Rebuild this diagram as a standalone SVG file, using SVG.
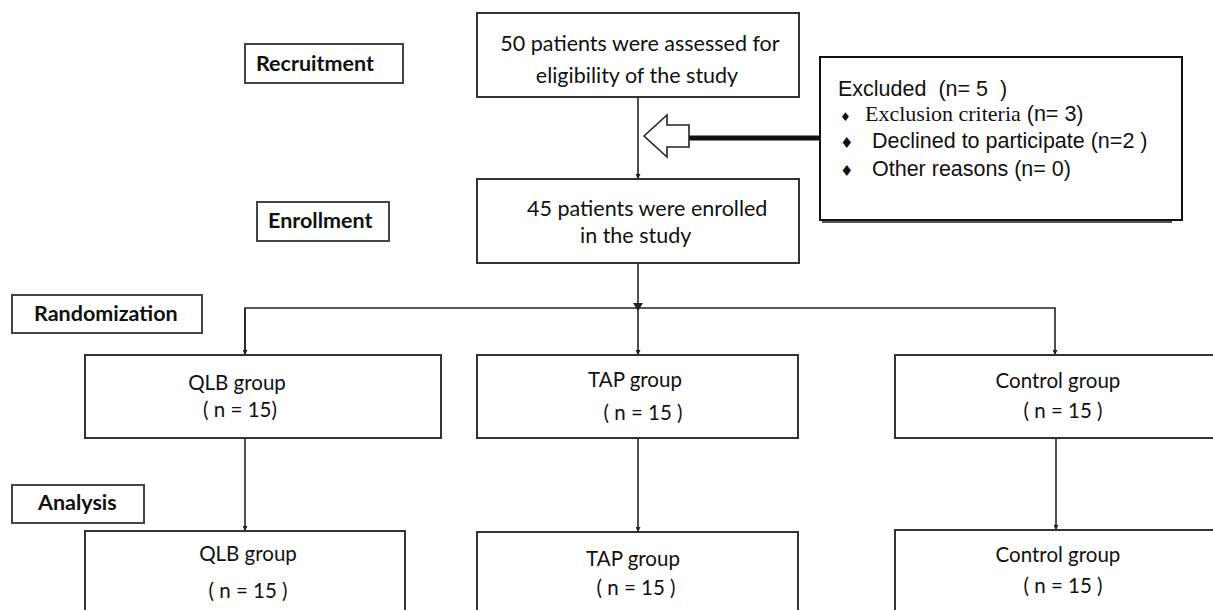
<svg xmlns="http://www.w3.org/2000/svg" width="1213" height="610" viewBox="0 0 1213 610">
<style>
.box{fill:#fff;stroke:#333;stroke-width:2}
.lbl{fill:#fff;stroke:#444;stroke-width:2}
.t{font-family:Lato,"Open Sans",sans-serif;font-size:20.5px;fill:#111}
.tl{font-family:Lato,"Open Sans",sans-serif;font-size:21.5px;fill:#111}
.tb{font-family:Lato,"Open Sans",sans-serif;font-size:21.5px;font-weight:bold;fill:#111}
.ta{font-family:"Liberation Sans",Arial,sans-serif;font-size:21.5px;fill:#111;white-space:pre}
.ts{font-family:"Liberation Serif","Times New Roman",serif;font-size:22px;fill:#111}
.bul{font-family:"DejaVu Sans",sans-serif;fill:#111}
.c{fill:none;stroke:#222;stroke-width:1.6}
</style>
<defs>
<marker id="ah" viewBox="0 0 10 10" refX="10" refY="5" markerWidth="5" markerHeight="5" orient="auto" markerUnits="userSpaceOnUse">
<path d="M0,0 L10,5 L0,10 z" fill="#222"/>
</marker>
</defs>
<rect width="1213" height="610" fill="#fff"/>

<g id="connectors">
<line class="c" x1="638" y1="97" x2="638" y2="179" marker-end="url(#ah)"/>
<line class="c" x1="638" y1="263" x2="638" y2="308"/>
<polyline class="c" points="245,355 245,308 1055,308 1055,355" marker-end="url(#ah)"/>
<line class="c" x1="245" y1="308" x2="245" y2="355" marker-end="url(#ah)"/>
<line class="c" x1="638" y1="308" x2="638" y2="355" marker-end="url(#ah)"/>
<path d="M633,303 L643,303 L638,311 z" fill="#222"/>
<line class="c" x1="245" y1="438" x2="245" y2="531" marker-end="url(#ah)"/>
<line class="c" x1="638" y1="438" x2="638" y2="532" marker-end="url(#ah)"/>
<line class="c" x1="1056" y1="438" x2="1056" y2="530" marker-end="url(#ah)"/>
<line x1="689" y1="138" x2="820" y2="138" stroke="#111" stroke-width="5"/>
<polygon points="644,136 667,115 667,125 689,125 689,147 667,147 667,157" fill="#fff" stroke="#222" stroke-width="1.6"/>
</g>

<g id="recruitment">
<rect class="lbl" x="245" y="44" width="158" height="39"/>
<text class="tb" x="256" y="71">Recruitment</text>
</g>
<g id="enrollment-label">
<rect class="lbl" x="257" y="202" width="132" height="39"/>
<text class="tb" x="268" y="228">Enrollment</text>
</g>
<g id="randomization">
<rect class="lbl" x="12" y="295" width="190" height="38"/>
<text class="tb" x="34" y="321">Randomization</text>
</g>
<g id="analysis">
<rect class="lbl" x="12" y="485" width="132" height="38"/>
<text class="tb" x="38" y="510">Analysis</text>
</g>

<g id="assessed">
<rect class="box" x="477" y="13" width="322" height="84"/>
<text class="tl" x="640" y="51" text-anchor="middle">50 patients were assessed for</text>
<text class="tl" x="637" y="83" text-anchor="middle">eligibility of the study</text>
</g>

<g id="excluded">
<rect x="822" y="59" width="350" height="164" fill="#555"/>
<rect x="820" y="57" width="362" height="163" fill="#fff" stroke="#111" stroke-width="2"/>
<text class="ta" x="838" y="96">Excluded  (n= 5  )</text>
<text class="bul" x="840" y="121" font-size="12">♦</text>
<text x="865" y="121"><tspan class="ts">Exclusion criteria</tspan><tspan class="ta" font-size="20px"> (n= 3)</tspan></text>
<text class="bul" x="840" y="148" font-size="15">♦</text>
<text class="ta" x="872" y="148" font-size="21px">Declined to participate (n=2 )</text>
<text class="bul" x="840" y="176" font-size="15">♦</text>
<text class="ta" x="872" y="176" font-size="21px">Other reasons (n= 0)</text>
</g>

<g id="enrolled">
<rect class="box" x="477" y="179" width="322" height="84"/>
<text class="tl" x="527" y="216">45 patients were enrolled</text>
<text class="tl" x="580" y="243">in the study</text>
</g>

<g id="qlb">
<rect class="box" x="85" y="355" width="356" height="83"/>
<text class="t" x="237" y="390" text-anchor="middle">QLB group</text>
<text class="t" x="240" y="417" text-anchor="middle">( n = 15)</text>
</g>
<g id="tap">
<rect class="box" x="477" y="355" width="321" height="83"/>
<text class="t" x="635" y="387" text-anchor="middle">TAP group</text>
<text class="t" x="643" y="420" text-anchor="middle">( n = 15 )</text>
</g>
<g id="control">
<rect class="box" x="895" y="355" width="330" height="83"/>
<text class="t" x="1058" y="388" text-anchor="middle">Control group</text>
<text class="t" x="1063" y="418" text-anchor="middle">( n = 15 )</text>
</g>

<g id="qlb-analysis">
<rect class="box" x="85" y="531" width="320" height="100"/>
<text class="t" x="248" y="561" text-anchor="middle">QLB group</text>
<text class="t" x="248" y="598" text-anchor="middle">( n = 15 )</text>
</g>
<g id="tap-analysis">
<rect class="box" x="477" y="532" width="321" height="100"/>
<text class="t" x="633" y="566" text-anchor="middle">TAP group</text>
<text class="t" x="636" y="595" text-anchor="middle">( n = 15 )</text>
</g>
<g id="control-analysis">
<rect class="box" x="895" y="530" width="330" height="100"/>
<text class="t" x="1058" y="562" text-anchor="middle">Control group</text>
<text class="t" x="1063" y="593" text-anchor="middle">( n = 15 )</text>
</g>
</svg>
